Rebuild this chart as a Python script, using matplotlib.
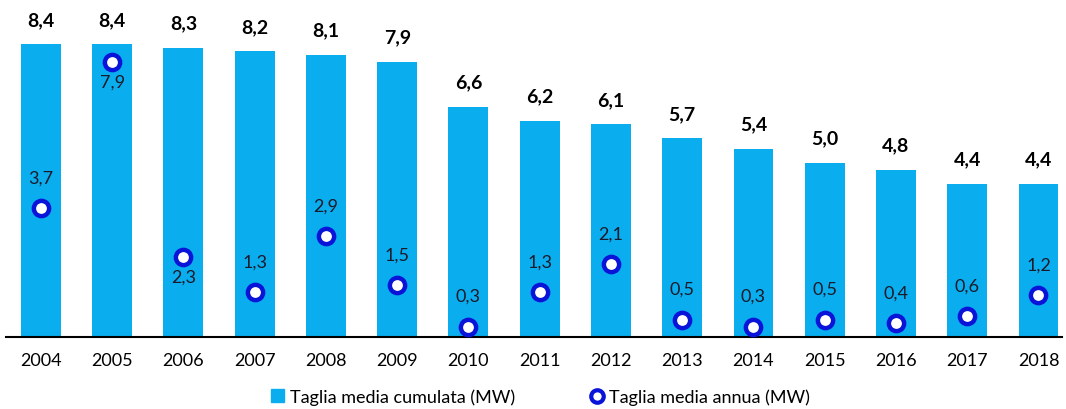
import matplotlib
matplotlib.use('Agg')
import matplotlib.pyplot as plt
from matplotlib.lines import Line2D
from matplotlib.patches import Patch
import numpy as np

plt.rcParams['font.family'] = ['Lato', 'DejaVu Sans']

anni = ['2004', '2005', '2006', '2007', '2008', '2009', '2010', '2011',
        '2012', '2013', '2014', '2015', '2016', '2017', '2018']
cumulata = [8.4, 8.4, 8.3, 8.2, 8.1, 7.9, 6.6, 6.2, 6.1, 5.7, 5.4, 5.0, 4.8, 4.4, 4.4]
annua = [3.7, 7.9, 2.3, 1.3, 2.9, 1.5, 0.3, 1.3, 2.1, 0.5, 0.3, 0.5, 0.4, 0.6, 1.2]
sotto = [False, True, True, False, False, False, False, False,
         False, False, False, False, False, False, False]

bar_col = '#0AAEEF'
mk_col = '#0A14D8'

fig = plt.figure(figsize=(10.66, 4.10), dpi=100)
ax = fig.add_axes([6/1066, 72/410, 1056/1066, 338/410])

x = np.arange(len(anni))
ax.bar(x, cumulata, width=0.56, color=bar_col, zorder=2)
ax.plot(x, annua, 'o', ms=11, mfc='white', mec=mk_col, mew=3.2, zorder=3)

for i, v in enumerate(cumulata):
    ax.annotate(f'{v:.1f}'.replace('.', ','), (x[i], v), xytext=(0, 18),
                textcoords='offset points', ha='center', va='center',
                fontsize=14, fontweight='bold', color='black')

for i, v in enumerate(annua):
    dy = -14 if sotto[i] else 22
    ax.annotate(f'{v:.1f}'.replace('.', ','), (x[i], v), xytext=(0, dy),
                textcoords='offset points', ha='center', va='center',
                fontsize=13, color='#1a1a2a')

ax.set_xlim(-0.49, 14.33)
ax.set_ylim(0, 9.7)
ax.set_xticks(x)
ax.set_xticklabels(anni, fontsize=13)
ax.set_yticks([])
ax.tick_params(axis='x', length=0, pad=11)
for s in ['top', 'right', 'left']:
    ax.spines[s].set_visible(False)
ax.spines['bottom'].set_linewidth(1.5)

handles = [Patch(color=bar_col, label='Taglia media cumulata (MW)'),
           Line2D([], [], ls='', marker='o', ms=9, mfc='white', mec=mk_col, mew=3,
                  label='Taglia media annua (MW)')]
fig.legend(handles=handles, loc='center', bbox_to_anchor=(0.507, 0.03), ncol=2,
           frameon=False, fontsize=13, handlelength=0.7, handletextpad=0.3,
           columnspacing=4.2)

fig.savefig('out.png', dpi=100)
